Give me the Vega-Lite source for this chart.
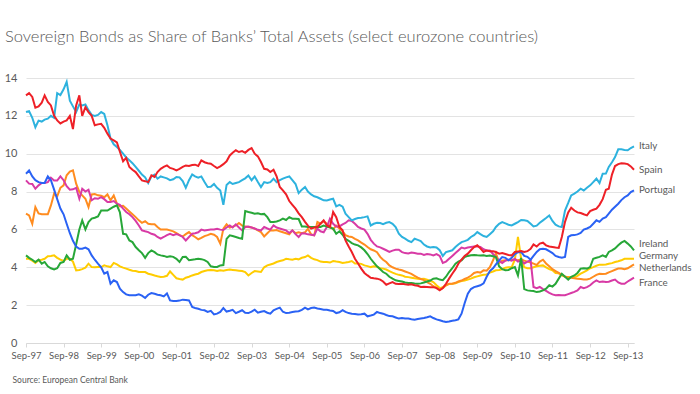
{
  "$schema": "https://vega.github.io/schema/vega-lite/v6.json",
  "width": 608,
  "height": 265,
  "autosize": {"type": "none"},
  "padding": {"left": 26, "top": 78, "right": 66, "bottom": 51},
  "background": "white",
  "config": {"font": "Lato", "view": {"stroke": null}},
  "title": {
    "text": "Sovereign Bonds as Share of Banks’ Total Assets (select eurozone countries)",
    "anchor": "start", "frame": "group", "dx": -21, "offset": 27,
    "fontSize": 16.5, "font": "Lato", "fontWeight": 300, "color": "#595959"
  },
  "data": {
    "format": {"parse": {"date": "utc:'%Y-%m'"}},
    "values": [
{"date":"1997-09","Italy":12.2,"Spain":13.08,"Portugal":8.94,"Ireland":4.63,"Germany":4.45,"Netherlands":6.83,"France":8.59},
{"date":"1997-10","Italy":12.25,"Spain":13.2,"Portugal":9.12,"Ireland":4.5,"Germany":4.45,"Netherlands":6.74,"France":8.42},
{"date":"1997-11","Italy":11.9,"Spain":13.0,"Portugal":8.8,"Ireland":4.4,"Germany":4.35,"Netherlands":6.3,"France":8.4},
{"date":"1997-12","Italy":11.4,"Spain":12.43,"Portugal":8.6,"Ireland":4.28,"Germany":4.23,"Netherlands":7.18,"France":8.15},
{"date":"1998-01","Italy":11.75,"Spain":12.5,"Portugal":8.5,"Ireland":4.4,"Germany":4.37,"Netherlands":6.85,"France":8.33},
{"date":"1998-02","Italy":11.7,"Spain":12.7,"Portugal":8.45,"Ireland":4.19,"Germany":4.4,"Netherlands":6.8,"France":8.45},
{"date":"1998-03","Italy":11.8,"Spain":13.08,"Portugal":8.45,"Ireland":4.28,"Germany":4.45,"Netherlands":6.8,"France":8.45},
{"date":"1998-04","Italy":11.85,"Spain":12.73,"Portugal":8.8,"Ireland":4.05,"Germany":4.58,"Netherlands":6.8,"France":8.5},
{"date":"1998-05","Italy":12.0,"Spain":12.55,"Portugal":8.6,"Ireland":3.95,"Germany":4.6,"Netherlands":7.27,"France":8.73},
{"date":"1998-06","Italy":11.9,"Spain":12.0,"Portugal":8.1,"Ireland":3.89,"Germany":4.63,"Netherlands":7.89,"France":8.59},
{"date":"1998-07","Italy":13.2,"Spain":11.76,"Portugal":7.6,"Ireland":3.95,"Germany":4.5,"Netherlands":7.75,"France":8.58},
{"date":"1998-08","Italy":13.1,"Spain":11.6,"Portugal":7.1,"Ireland":4.23,"Germany":4.4,"Netherlands":8.2,"France":8.8},
{"date":"1998-09","Italy":13.4,"Spain":11.7,"Portugal":6.8,"Ireland":4.28,"Germany":4.33,"Netherlands":8.33,"France":8.6},
{"date":"1998-10","Italy":13.8,"Spain":11.76,"Portugal":6.3,"Ireland":4.63,"Germany":4.45,"Netherlands":8.86,"France":8.28},
{"date":"1998-11","Italy":12.8,"Spain":12.0,"Portugal":5.8,"Ireland":4.4,"Germany":4.45,"Netherlands":9.05,"France":8.1},
{"date":"1998-12","Italy":12.5,"Spain":11.3,"Portugal":5.4,"Ireland":4.45,"Germany":4.3,"Netherlands":9.12,"France":8.12},
{"date":"1999-01","Italy":12.2,"Spain":12.55,"Portugal":5.1,"Ireland":5.2,"Germany":3.84,"Netherlands":8.42,"France":8.2},
{"date":"1999-02","Italy":12.6,"Spain":13.08,"Portugal":4.98,"Ireland":6.0,"Germany":3.86,"Netherlands":7.98,"France":7.62},
{"date":"1999-03","Italy":12.55,"Spain":12.0,"Portugal":4.98,"Ireland":6.48,"Germany":3.9,"Netherlands":7.8,"France":8.15},
{"date":"1999-04","Italy":12.6,"Spain":12.46,"Portugal":5.04,"Ireland":6.0,"Germany":3.98,"Netherlands":7.62,"France":8.0},
{"date":"1999-05","Italy":12.3,"Spain":12.2,"Portugal":4.95,"Ireland":6.39,"Germany":4.19,"Netherlands":7.18,"France":8.1},
{"date":"1999-06","Italy":12.05,"Spain":12.0,"Portugal":4.63,"Ireland":6.57,"Germany":4.01,"Netherlands":7.85,"France":7.54},
{"date":"1999-07","Italy":12.0,"Spain":11.5,"Portugal":4.4,"Ireland":6.62,"Germany":4.0,"Netherlands":7.87,"France":7.65},
{"date":"1999-08","Italy":12.05,"Spain":11.55,"Portugal":4.19,"Ireland":6.69,"Germany":4.02,"Netherlands":7.8,"France":7.62},
{"date":"1999-09","Italy":12.2,"Spain":11.58,"Portugal":4.0,"Ireland":7.0,"Germany":4.01,"Netherlands":7.78,"France":7.71},
{"date":"1999-10","Italy":12.1,"Spain":11.37,"Portugal":3.66,"Ireland":7.0,"Germany":4.1,"Netherlands":7.7,"France":7.6},
{"date":"1999-11","Italy":11.5,"Spain":11.06,"Portugal":3.75,"Ireland":7.0,"Germany":4.05,"Netherlands":7.85,"France":7.45},
{"date":"1999-12","Italy":10.8,"Spain":10.8,"Portugal":3.13,"Ireland":7.1,"Germany":4.01,"Netherlands":7.54,"France":7.45},
{"date":"2000-01","Italy":10.5,"Spain":10.7,"Portugal":3.31,"Ireland":7.2,"Germany":4.23,"Netherlands":7.8,"France":7.5},
{"date":"2000-02","Italy":10.35,"Spain":10.6,"Portugal":3.22,"Ireland":7.27,"Germany":4.15,"Netherlands":7.36,"France":7.36},
{"date":"2000-03","Italy":10.2,"Spain":10.1,"Portugal":2.87,"Ireland":6.9,"Germany":4.05,"Netherlands":7.22,"France":7.3},
{"date":"2000-04","Italy":10.0,"Spain":9.6,"Portugal":2.69,"Ireland":5.77,"Germany":3.98,"Netherlands":7.25,"France":7.1},
{"date":"2000-05","Italy":9.8,"Spain":9.78,"Portugal":2.57,"Ireland":5.74,"Germany":3.93,"Netherlands":7.1,"France":6.92},
{"date":"2000-06","Italy":9.65,"Spain":9.3,"Portugal":2.52,"Ireland":5.42,"Germany":3.87,"Netherlands":6.95,"France":6.8},
{"date":"2000-07","Italy":9.5,"Spain":9.15,"Portugal":2.52,"Ireland":5.33,"Germany":3.82,"Netherlands":6.8,"France":6.65},
{"date":"2000-08","Italy":9.3,"Spain":9.03,"Portugal":2.52,"Ireland":5.07,"Germany":3.8,"Netherlands":6.65,"France":6.45},
{"date":"2000-09","Italy":9.1,"Spain":8.8,"Portugal":2.57,"Ireland":4.9,"Germany":3.75,"Netherlands":6.48,"France":6.21},
{"date":"2000-10","Italy":8.9,"Spain":8.59,"Portugal":2.5,"Ireland":4.75,"Germany":3.75,"Netherlands":6.35,"France":5.95},
{"date":"2000-11","Italy":8.75,"Spain":8.55,"Portugal":2.38,"Ireland":4.5,"Germany":3.75,"Netherlands":6.44,"France":5.9},
{"date":"2000-12","Italy":8.45,"Spain":8.5,"Portugal":2.55,"Ireland":4.75,"Germany":3.66,"Netherlands":6.3,"France":5.86},
{"date":"2001-01","Italy":8.8,"Spain":8.86,"Portugal":2.64,"Ireland":4.89,"Germany":3.62,"Netherlands":6.27,"France":5.77},
{"date":"2001-02","Italy":8.9,"Spain":8.77,"Portugal":2.6,"Ireland":4.8,"Germany":3.57,"Netherlands":6.27,"France":5.72},
{"date":"2001-03","Italy":8.68,"Spain":9.03,"Portugal":2.55,"Ireland":4.68,"Germany":3.53,"Netherlands":6.13,"France":5.6},
{"date":"2001-04","Italy":8.8,"Spain":9.2,"Portugal":2.52,"Ireland":4.63,"Germany":3.49,"Netherlands":6.0,"France":5.51},
{"date":"2001-05","Italy":8.75,"Spain":9.3,"Portugal":2.46,"Ireland":4.6,"Germany":3.5,"Netherlands":5.99,"France":5.6},
{"date":"2001-06","Italy":8.7,"Spain":9.38,"Portugal":2.62,"Ireland":4.54,"Germany":3.55,"Netherlands":5.99,"France":5.7},
{"date":"2001-07","Italy":8.6,"Spain":9.25,"Portugal":2.25,"Ireland":4.58,"Germany":3.78,"Netherlands":5.95,"France":5.77},
{"date":"2001-08","Italy":8.65,"Spain":9.2,"Portugal":2.22,"Ireland":4.55,"Germany":3.6,"Netherlands":5.9,"France":5.7},
{"date":"2001-09","Italy":8.77,"Spain":9.12,"Portugal":2.22,"Ireland":4.45,"Germany":3.42,"Netherlands":5.81,"France":5.75},
{"date":"2001-10","Italy":8.75,"Spain":9.2,"Portugal":2.24,"Ireland":4.28,"Germany":3.38,"Netherlands":5.7,"France":5.7},
{"date":"2001-11","Italy":8.55,"Spain":9.3,"Portugal":2.29,"Ireland":4.54,"Germany":3.35,"Netherlands":5.63,"France":5.6},
{"date":"2001-12","Italy":8.2,"Spain":9.38,"Portugal":2.27,"Ireland":4.55,"Germany":3.45,"Netherlands":5.75,"France":5.42},
{"date":"2002-01","Italy":8.6,"Spain":9.35,"Portugal":2.25,"Ireland":4.37,"Germany":3.5,"Netherlands":5.86,"France":5.6},
{"date":"2002-02","Italy":8.9,"Spain":9.4,"Portugal":1.9,"Ireland":4.4,"Germany":3.57,"Netherlands":5.7,"France":5.77},
{"date":"2002-03","Italy":8.8,"Spain":9.42,"Portugal":1.85,"Ireland":4.42,"Germany":3.62,"Netherlands":5.6,"France":5.8},
{"date":"2002-04","Italy":8.73,"Spain":9.35,"Portugal":1.81,"Ireland":4.45,"Germany":3.66,"Netherlands":5.48,"France":5.85},
{"date":"2002-05","Italy":8.8,"Spain":9.65,"Portugal":1.75,"Ireland":4.43,"Germany":3.75,"Netherlands":5.55,"France":5.99},
{"date":"2002-06","Italy":8.5,"Spain":9.55,"Portugal":1.73,"Ireland":4.38,"Germany":3.8,"Netherlands":5.65,"France":5.95},
{"date":"2002-07","Italy":8.24,"Spain":9.5,"Portugal":1.64,"Ireland":4.28,"Germany":3.84,"Netherlands":5.7,"France":5.97},
{"date":"2002-08","Italy":8.25,"Spain":9.47,"Portugal":1.7,"Ireland":4.05,"Germany":3.85,"Netherlands":5.77,"France":5.99},
{"date":"2002-09","Italy":8.4,"Spain":9.35,"Portugal":1.51,"Ireland":4.01,"Germany":3.84,"Netherlands":5.72,"France":6.0},
{"date":"2002-10","Italy":8.2,"Spain":9.24,"Portugal":1.55,"Ireland":4.02,"Germany":3.8,"Netherlands":5.6,"France":6.04},
{"date":"2002-11","Italy":8.06,"Spain":9.33,"Portugal":1.64,"Ireland":4.1,"Germany":3.84,"Netherlands":5.25,"France":5.99},
{"date":"2002-12","Italy":7.3,"Spain":9.45,"Portugal":1.85,"Ireland":4.12,"Germany":3.82,"Netherlands":6.04,"France":5.97},
{"date":"2003-01","Italy":8.35,"Spain":9.6,"Portugal":1.66,"Ireland":5.5,"Germany":3.86,"Netherlands":6.27,"France":6.1},
{"date":"2003-02","Italy":8.5,"Spain":9.91,"Portugal":1.7,"Ireland":5.69,"Germany":3.88,"Netherlands":6.1,"France":6.21},
{"date":"2003-03","Italy":8.4,"Spain":10.05,"Portugal":1.75,"Ireland":5.65,"Germany":3.86,"Netherlands":6.15,"France":6.1},
{"date":"2003-04","Italy":8.45,"Spain":10.18,"Portugal":1.58,"Ireland":5.6,"Germany":3.84,"Netherlands":6.21,"France":6.27},
{"date":"2003-05","Italy":8.5,"Spain":10.09,"Portugal":1.65,"Ireland":5.55,"Germany":3.82,"Netherlands":6.34,"France":6.1},
{"date":"2003-06","Italy":8.6,"Spain":10.14,"Portugal":1.73,"Ireland":5.51,"Germany":3.8,"Netherlands":6.2,"France":5.95},
{"date":"2003-07","Italy":8.7,"Spain":10.05,"Portugal":1.6,"Ireland":6.97,"Germany":3.75,"Netherlands":6.15,"France":6.13},
{"date":"2003-08","Italy":8.85,"Spain":10.2,"Portugal":1.58,"Ireland":6.92,"Germany":3.57,"Netherlands":6.13,"France":6.15},
{"date":"2003-09","Italy":8.6,"Spain":10.3,"Portugal":1.66,"Ireland":6.88,"Germany":3.7,"Netherlands":6.1,"France":6.1},
{"date":"2003-10","Italy":8.8,"Spain":10.0,"Portugal":1.76,"Ireland":6.83,"Germany":3.8,"Netherlands":6.04,"France":6.05},
{"date":"2003-11","Italy":8.5,"Spain":9.86,"Portugal":1.6,"Ireland":6.85,"Germany":3.78,"Netherlands":5.95,"France":5.98},
{"date":"2003-12","Italy":8.24,"Spain":9.56,"Portugal":1.65,"Ireland":6.8,"Germany":3.75,"Netherlands":5.86,"France":5.95},
{"date":"2004-01","Italy":8.5,"Spain":9.2,"Portugal":1.69,"Ireland":6.82,"Germany":4.0,"Netherlands":5.63,"France":6.13},
{"date":"2004-02","Italy":8.45,"Spain":9.17,"Portugal":1.6,"Ireland":6.65,"Germany":4.1,"Netherlands":5.8,"France":6.05},
{"date":"2004-03","Italy":8.5,"Spain":9.03,"Portugal":1.55,"Ireland":6.39,"Germany":4.15,"Netherlands":5.95,"France":5.99},
{"date":"2004-04","Italy":8.68,"Spain":9.15,"Portugal":1.73,"Ireland":6.39,"Germany":4.2,"Netherlands":5.95,"France":6.21},
{"date":"2004-05","Italy":8.5,"Spain":8.8,"Portugal":1.8,"Ireland":6.42,"Germany":4.28,"Netherlands":5.97,"France":6.1},
{"date":"2004-06","Italy":8.6,"Spain":8.24,"Portugal":1.87,"Ireland":6.48,"Germany":4.33,"Netherlands":5.9,"France":6.05},
{"date":"2004-07","Italy":8.68,"Spain":8.06,"Portugal":1.65,"Ireland":6.57,"Germany":4.37,"Netherlands":5.85,"France":6.0},
{"date":"2004-08","Italy":8.75,"Spain":7.85,"Portugal":1.58,"Ireland":6.5,"Germany":4.45,"Netherlands":5.8,"France":5.95},
{"date":"2004-09","Italy":8.8,"Spain":7.5,"Portugal":1.6,"Ireland":6.65,"Germany":4.42,"Netherlands":5.74,"France":5.81},
{"date":"2004-10","Italy":8.6,"Spain":7.3,"Portugal":1.64,"Ireland":6.57,"Germany":4.4,"Netherlands":5.95,"France":5.95},
{"date":"2004-11","Italy":8.4,"Spain":7.1,"Portugal":1.66,"Ireland":6.57,"Germany":4.45,"Netherlands":5.8,"France":5.75},
{"date":"2004-12","Italy":7.92,"Spain":6.85,"Portugal":1.68,"Ireland":6.55,"Germany":4.42,"Netherlands":5.85,"France":5.6},
{"date":"2005-01","Italy":8.1,"Spain":6.65,"Portugal":1.75,"Ireland":6.16,"Germany":4.5,"Netherlands":5.8,"France":5.8},
{"date":"2005-02","Italy":8.24,"Spain":6.4,"Portugal":1.87,"Ireland":6.16,"Germany":4.54,"Netherlands":5.85,"France":5.78},
{"date":"2005-03","Italy":8.0,"Spain":6.2,"Portugal":1.78,"Ireland":6.13,"Germany":4.63,"Netherlands":6.04,"France":5.74},
{"date":"2005-04","Italy":7.85,"Spain":6.04,"Portugal":1.85,"Ireland":6.13,"Germany":4.5,"Netherlands":5.74,"France":5.72},
{"date":"2005-05","Italy":7.75,"Spain":6.1,"Portugal":1.87,"Ireland":6.13,"Germany":4.42,"Netherlands":5.69,"France":5.69},
{"date":"2005-06","Italy":7.7,"Spain":6.13,"Portugal":1.82,"Ireland":6.13,"Germany":4.38,"Netherlands":6.39,"France":6.04},
{"date":"2005-07","Italy":7.62,"Spain":6.3,"Portugal":1.8,"Ireland":6.13,"Germany":4.3,"Netherlands":6.3,"France":5.9},
{"date":"2005-08","Italy":7.54,"Spain":6.48,"Portugal":1.76,"Ireland":6.2,"Germany":4.28,"Netherlands":6.44,"France":5.85},
{"date":"2005-09","Italy":7.53,"Spain":6.21,"Portugal":1.76,"Ireland":6.15,"Germany":4.28,"Netherlands":6.3,"France":6.13},
{"date":"2005-10","Italy":7.58,"Spain":6.13,"Portugal":1.72,"Ireland":6.1,"Germany":4.25,"Netherlands":6.15,"France":6.57},
{"date":"2005-11","Italy":7.62,"Spain":6.92,"Portugal":1.69,"Ireland":6.04,"Germany":4.33,"Netherlands":6.0,"France":6.3},
{"date":"2005-12","Italy":7.22,"Spain":6.65,"Portugal":1.58,"Ireland":5.77,"Germany":4.3,"Netherlands":6.2,"France":6.16},
{"date":"2006-01","Italy":7.3,"Spain":6.13,"Portugal":1.62,"Ireland":5.9,"Germany":4.28,"Netherlands":6.05,"France":6.16},
{"date":"2006-02","Italy":7.2,"Spain":5.95,"Portugal":1.73,"Ireland":5.72,"Germany":4.23,"Netherlands":5.9,"France":6.27},
{"date":"2006-03","Italy":6.83,"Spain":5.42,"Portugal":1.64,"Ireland":5.5,"Germany":4.25,"Netherlands":5.7,"France":6.34},
{"date":"2006-04","Italy":6.65,"Spain":5.1,"Portugal":1.58,"Ireland":5.4,"Germany":4.28,"Netherlands":5.63,"France":6.48},
{"date":"2006-05","Italy":6.48,"Spain":4.81,"Portugal":1.55,"Ireland":5.28,"Germany":4.33,"Netherlands":5.6,"France":6.45},
{"date":"2006-06","Italy":6.55,"Spain":4.45,"Portugal":1.53,"Ireland":5.2,"Germany":4.2,"Netherlands":5.5,"France":6.3},
{"date":"2006-07","Italy":6.6,"Spain":4.2,"Portugal":1.5,"Ireland":5.16,"Germany":4.2,"Netherlands":5.42,"France":6.13},
{"date":"2006-08","Italy":6.62,"Spain":3.93,"Portugal":1.52,"Ireland":5.05,"Germany":4.18,"Netherlands":5.3,"France":6.05},
{"date":"2006-09","Italy":6.65,"Spain":3.7,"Portugal":1.55,"Ireland":4.9,"Germany":4.1,"Netherlands":5.2,"France":5.99},
{"date":"2006-10","Italy":6.69,"Spain":3.57,"Portugal":1.41,"Ireland":4.7,"Germany":4.06,"Netherlands":5.07,"France":5.77},
{"date":"2006-11","Italy":6.21,"Spain":3.45,"Portugal":1.45,"Ireland":4.45,"Germany":4.01,"Netherlands":4.95,"France":5.45},
{"date":"2006-12","Italy":6.3,"Spain":3.42,"Portugal":1.5,"Ireland":4.25,"Germany":4.05,"Netherlands":4.89,"France":5.25},
{"date":"2007-01","Italy":6.35,"Spain":3.4,"Portugal":1.64,"Ireland":4.05,"Germany":4.03,"Netherlands":4.8,"France":5.1},
{"date":"2007-02","Italy":6.34,"Spain":3.35,"Portugal":1.58,"Ireland":3.9,"Germany":3.95,"Netherlands":4.55,"France":5.05},
{"date":"2007-03","Italy":6.28,"Spain":3.25,"Portugal":1.55,"Ireland":3.75,"Germany":3.93,"Netherlands":4.4,"France":4.98},
{"date":"2007-04","Italy":6.35,"Spain":3.08,"Portugal":1.48,"Ireland":3.66,"Germany":3.88,"Netherlands":4.28,"France":4.9},
{"date":"2007-05","Italy":6.39,"Spain":3.15,"Portugal":1.42,"Ireland":3.5,"Germany":3.8,"Netherlands":4.1,"France":4.81},
{"date":"2007-06","Italy":6.3,"Spain":3.22,"Portugal":1.41,"Ireland":3.4,"Germany":3.72,"Netherlands":4.0,"France":4.88},
{"date":"2007-07","Italy":6.13,"Spain":3.13,"Portugal":1.35,"Ireland":3.31,"Germany":3.65,"Netherlands":3.93,"France":4.93},
{"date":"2007-08","Italy":5.77,"Spain":3.12,"Portugal":1.29,"Ireland":3.28,"Germany":3.6,"Netherlands":3.88,"France":4.93},
{"date":"2007-09","Italy":5.6,"Spain":3.13,"Portugal":1.32,"Ireland":3.25,"Germany":3.57,"Netherlands":3.84,"France":4.8},
{"date":"2007-10","Italy":5.51,"Spain":3.1,"Portugal":1.3,"Ireland":3.2,"Germany":3.5,"Netherlands":3.78,"France":4.75},
{"date":"2007-11","Italy":5.4,"Spain":3.08,"Portugal":1.29,"Ireland":3.17,"Germany":3.48,"Netherlands":3.72,"France":4.73},
{"date":"2007-12","Italy":5.33,"Spain":3.1,"Portugal":1.25,"Ireland":3.17,"Germany":3.45,"Netherlands":3.65,"France":4.78},
{"date":"2008-01","Italy":5.51,"Spain":3.05,"Portugal":1.23,"Ireland":3.14,"Germany":3.42,"Netherlands":3.55,"France":4.75},
{"date":"2008-02","Italy":5.45,"Spain":3.02,"Portugal":1.27,"Ireland":3.13,"Germany":3.4,"Netherlands":3.45,"France":4.72},
{"date":"2008-03","Italy":5.39,"Spain":2.96,"Portugal":1.3,"Ireland":3.15,"Germany":3.38,"Netherlands":3.38,"France":4.72},
{"date":"2008-04","Italy":5.2,"Spain":2.97,"Portugal":1.32,"Ireland":3.2,"Germany":3.4,"Netherlands":3.32,"France":4.65},
{"date":"2008-05","Italy":5.1,"Spain":2.96,"Portugal":1.36,"Ireland":3.25,"Germany":3.35,"Netherlands":3.22,"France":4.7},
{"date":"2008-06","Italy":5.05,"Spain":2.95,"Portugal":1.41,"Ireland":3.3,"Germany":3.28,"Netherlands":3.13,"France":4.68},
{"date":"2008-07","Italy":5.07,"Spain":2.95,"Portugal":1.32,"Ireland":3.4,"Germany":3.22,"Netherlands":3.0,"France":4.63},
{"date":"2008-08","Italy":5.05,"Spain":2.9,"Portugal":1.25,"Ireland":3.42,"Germany":3.05,"Netherlands":2.93,"France":4.7},
{"date":"2008-09","Italy":4.9,"Spain":2.78,"Portugal":1.2,"Ireland":3.35,"Germany":2.9,"Netherlands":2.82,"France":4.6},
{"date":"2008-10","Italy":4.6,"Spain":2.9,"Portugal":1.15,"Ireland":3.32,"Germany":2.95,"Netherlands":2.9,"France":4.23},
{"date":"2008-11","Italy":4.8,"Spain":3.13,"Portugal":1.11,"Ireland":3.5,"Germany":3.05,"Netherlands":3.05,"France":4.3},
{"date":"2008-12","Italy":4.85,"Spain":3.4,"Portugal":1.14,"Ireland":3.75,"Germany":3.12,"Netherlands":3.13,"France":4.45},
{"date":"2009-01","Italy":4.9,"Spain":3.66,"Portugal":1.18,"Ireland":3.95,"Germany":3.13,"Netherlands":3.13,"France":4.6},
{"date":"2009-02","Italy":5.07,"Spain":3.9,"Portugal":1.2,"Ireland":4.19,"Germany":3.15,"Netherlands":3.18,"France":4.75},
{"date":"2009-03","Italy":5.2,"Spain":4.19,"Portugal":1.25,"Ireland":4.3,"Germany":3.22,"Netherlands":3.25,"France":4.89},
{"date":"2009-04","Italy":5.33,"Spain":4.4,"Portugal":1.55,"Ireland":4.37,"Germany":3.27,"Netherlands":3.3,"France":5.04},
{"date":"2009-05","Italy":5.38,"Spain":4.6,"Portugal":2.1,"Ireland":4.54,"Germany":3.3,"Netherlands":3.38,"France":5.0},
{"date":"2009-06","Italy":5.45,"Spain":4.72,"Portugal":2.6,"Ireland":4.6,"Germany":3.35,"Netherlands":3.45,"France":5.04},
{"date":"2009-07","Italy":5.6,"Spain":4.9,"Portugal":2.85,"Ireland":4.63,"Germany":3.4,"Netherlands":3.55,"France":5.07},
{"date":"2009-08","Italy":5.7,"Spain":5.07,"Portugal":2.95,"Ireland":4.65,"Germany":3.47,"Netherlands":3.7,"France":5.1},
{"date":"2009-09","Italy":5.86,"Spain":5.16,"Portugal":3.0,"Ireland":4.63,"Germany":3.52,"Netherlands":3.75,"France":5.1},
{"date":"2009-10","Italy":5.75,"Spain":5.0,"Portugal":3.05,"Ireland":4.62,"Germany":3.57,"Netherlands":3.72,"France":5.08},
{"date":"2009-11","Italy":5.65,"Spain":4.81,"Portugal":3.15,"Ireland":4.63,"Germany":3.6,"Netherlands":3.84,"France":4.95},
{"date":"2009-12","Italy":5.6,"Spain":4.89,"Portugal":3.5,"Ireland":4.6,"Germany":3.62,"Netherlands":3.82,"France":4.89},
{"date":"2010-01","Italy":5.75,"Spain":4.85,"Portugal":3.8,"Ireland":4.62,"Germany":3.72,"Netherlands":4.01,"France":4.89},
{"date":"2010-02","Italy":5.9,"Spain":4.85,"Portugal":3.95,"Ireland":4.58,"Germany":3.78,"Netherlands":4.37,"France":4.7},
{"date":"2010-03","Italy":6.13,"Spain":4.81,"Portugal":4.15,"Ireland":4.54,"Germany":3.84,"Netherlands":4.75,"France":4.54},
{"date":"2010-04","Italy":6.3,"Spain":4.72,"Portugal":4.37,"Ireland":4.05,"Germany":3.86,"Netherlands":4.23,"France":4.35},
{"date":"2010-05","Italy":6.39,"Spain":4.75,"Portugal":4.54,"Ireland":3.9,"Germany":3.9,"Netherlands":4.35,"France":4.23},
{"date":"2010-06","Italy":6.32,"Spain":4.7,"Portugal":4.5,"Ireland":3.84,"Germany":3.98,"Netherlands":4.37,"France":4.35},
{"date":"2010-07","Italy":6.25,"Spain":4.65,"Portugal":4.37,"Ireland":3.86,"Germany":4.0,"Netherlands":4.37,"France":4.4},
{"date":"2010-08","Italy":6.21,"Spain":4.63,"Portugal":4.5,"Ireland":3.95,"Germany":4.01,"Netherlands":4.4,"France":4.35},
{"date":"2010-09","Italy":6.3,"Spain":4.81,"Portugal":4.7,"Ireland":4.01,"Germany":4.4,"Netherlands":4.38,"France":4.45},
{"date":"2010-10","Italy":6.39,"Spain":4.84,"Portugal":4.8,"Ireland":3.57,"Germany":5.6,"Netherlands":4.37,"France":4.3},
{"date":"2010-11","Italy":6.5,"Spain":4.86,"Portugal":4.81,"Ireland":4.5,"Germany":4.45,"Netherlands":4.42,"France":4.37},
{"date":"2010-12","Italy":6.48,"Spain":4.81,"Portugal":4.6,"Ireland":2.85,"Germany":4.0,"Netherlands":4.35,"France":4.2},
{"date":"2011-01","Italy":6.45,"Spain":4.85,"Portugal":4.55,"Ireland":2.78,"Germany":3.95,"Netherlands":4.3,"France":4.3},
{"date":"2011-02","Italy":6.3,"Spain":4.98,"Portugal":4.4,"Ireland":2.76,"Germany":3.95,"Netherlands":4.25,"France":4.37},
{"date":"2011-03","Italy":6.16,"Spain":5.21,"Portugal":4.6,"Ireland":2.75,"Germany":4.0,"Netherlands":4.19,"France":2.96},
{"date":"2011-04","Italy":6.2,"Spain":5.1,"Portugal":4.81,"Ireland":2.69,"Germany":4.05,"Netherlands":4.12,"France":2.9},
{"date":"2011-05","Italy":6.35,"Spain":5.25,"Portugal":4.95,"Ireland":2.72,"Germany":4.08,"Netherlands":4.3,"France":2.96},
{"date":"2011-06","Italy":6.48,"Spain":5.3,"Portugal":4.98,"Ireland":2.78,"Germany":4.1,"Netherlands":4.4,"France":2.85},
{"date":"2011-07","Italy":6.6,"Spain":5.16,"Portugal":4.95,"Ireland":2.87,"Germany":4.0,"Netherlands":4.2,"France":2.75},
{"date":"2011-08","Italy":6.74,"Spain":5.1,"Portugal":4.85,"Ireland":3.05,"Germany":3.9,"Netherlands":4.05,"France":2.65},
{"date":"2011-09","Italy":6.45,"Spain":5.07,"Portugal":4.75,"Ireland":2.98,"Germany":3.84,"Netherlands":3.9,"France":2.57},
{"date":"2011-10","Italy":6.25,"Spain":5.04,"Portugal":4.6,"Ireland":3.13,"Germany":3.7,"Netherlands":3.8,"France":2.52},
{"date":"2011-11","Italy":6.16,"Spain":5.02,"Portugal":4.54,"Ireland":3.4,"Germany":3.68,"Netherlands":3.7,"France":2.54},
{"date":"2011-12","Italy":6.13,"Spain":5.6,"Portugal":4.5,"Ireland":3.66,"Germany":3.57,"Netherlands":3.6,"France":2.52},
{"date":"2012-01","Italy":7.0,"Spain":6.4,"Portugal":4.55,"Ireland":3.5,"Germany":3.5,"Netherlands":3.52,"France":2.52},
{"date":"2012-02","Italy":7.4,"Spain":6.9,"Portugal":5.6,"Ireland":3.35,"Germany":3.49,"Netherlands":3.45,"France":2.58},
{"date":"2012-03","Italy":7.8,"Spain":7.15,"Portugal":5.69,"Ireland":3.5,"Germany":3.48,"Netherlands":3.45,"France":2.64},
{"date":"2012-04","Italy":7.89,"Spain":7.0,"Portugal":5.7,"Ireland":3.57,"Germany":3.47,"Netherlands":3.42,"France":2.7},
{"date":"2012-05","Italy":8.0,"Spain":6.9,"Portugal":5.74,"Ireland":3.7,"Germany":3.55,"Netherlands":3.4,"France":2.78},
{"date":"2012-06","Italy":8.15,"Spain":6.87,"Portugal":5.81,"Ireland":3.93,"Germany":3.66,"Netherlands":3.38,"France":2.96},
{"date":"2012-07","Italy":8.06,"Spain":6.8,"Portugal":5.99,"Ireland":3.95,"Germany":3.75,"Netherlands":3.36,"France":2.9},
{"date":"2012-08","Italy":8.2,"Spain":6.74,"Portugal":6.05,"Ireland":3.93,"Germany":3.84,"Netherlands":3.36,"France":2.95},
{"date":"2012-09","Italy":8.33,"Spain":6.97,"Portugal":6.13,"Ireland":4.01,"Germany":3.95,"Netherlands":3.4,"France":3.05},
{"date":"2012-10","Italy":8.5,"Spain":7.04,"Portugal":6.3,"Ireland":4.45,"Germany":4.01,"Netherlands":3.5,"France":3.2},
{"date":"2012-11","Italy":8.68,"Spain":7.1,"Portugal":6.48,"Ireland":4.5,"Germany":4.08,"Netherlands":3.6,"France":3.31},
{"date":"2012-12","Italy":8.45,"Spain":7.3,"Portugal":6.4,"Ireland":4.55,"Germany":4.14,"Netherlands":3.66,"France":3.22},
{"date":"2013-01","Italy":8.94,"Spain":7.6,"Portugal":6.57,"Ireland":4.63,"Germany":4.14,"Netherlands":3.65,"France":3.25},
{"date":"2013-02","Italy":8.95,"Spain":8.1,"Portugal":6.65,"Ireland":4.55,"Germany":4.15,"Netherlands":3.66,"France":3.22},
{"date":"2013-03","Italy":9.3,"Spain":8.15,"Portugal":6.83,"Ireland":4.81,"Germany":4.19,"Netherlands":3.73,"France":3.24},
{"date":"2013-04","Italy":9.55,"Spain":8.9,"Portugal":7.04,"Ireland":4.89,"Germany":4.22,"Netherlands":3.8,"France":3.3},
{"date":"2013-05","Italy":9.82,"Spain":9.35,"Portugal":7.2,"Ireland":5.0,"Germany":4.28,"Netherlands":3.87,"France":3.35},
{"date":"2013-06","Italy":10.23,"Spain":9.45,"Portugal":7.36,"Ireland":5.16,"Germany":4.32,"Netherlands":3.93,"France":3.2},
{"date":"2013-07","Italy":10.23,"Spain":9.5,"Portugal":7.55,"Ireland":5.3,"Germany":4.37,"Netherlands":3.93,"France":3.13},
{"date":"2013-08","Italy":10.2,"Spain":9.48,"Portugal":7.7,"Ireland":5.39,"Germany":4.45,"Netherlands":3.9,"France":3.13},
{"date":"2013-09","Italy":10.18,"Spain":9.45,"Portugal":7.8,"Ireland":5.25,"Germany":4.45,"Netherlands":3.95,"France":3.25},
{"date":"2013-10","Italy":10.3,"Spain":9.33,"Portugal":7.97,"Ireland":5.1,"Germany":4.45,"Netherlands":4.05,"France":3.35},
{"date":"2013-11","Italy":10.39,"Spain":9.15,"Portugal":8.06,"Ireland":4.89,"Germany":4.45,"Netherlands":4.15,"France":3.45}
    ]
  },
  "transform": [
    {"fold": ["Germany", "Netherlands", "France", "Ireland", "Portugal", "Italy", "Spain"], "as": ["country", "value"]}
  ],
  "encoding": {
    "x": {
      "field": "date", "type": "temporal",
      "scale": {"type": "utc", "domain": [{"year": 1997, "month": 9, "date": 1, "utc": true}, {"year": 2013, "month": 11, "date": 1, "utc": true}]},
      "axis": {
        "values": [
          {"year": 1997, "month": 9, "date": 1, "utc": true}, {"year": 1998, "month": 9, "date": 1, "utc": true},
          {"year": 1999, "month": 9, "date": 1, "utc": true}, {"year": 2000, "month": 9, "date": 1, "utc": true},
          {"year": 2001, "month": 9, "date": 1, "utc": true}, {"year": 2002, "month": 9, "date": 1, "utc": true},
          {"year": 2003, "month": 9, "date": 1, "utc": true}, {"year": 2004, "month": 9, "date": 1, "utc": true},
          {"year": 2005, "month": 9, "date": 1, "utc": true}, {"year": 2006, "month": 9, "date": 1, "utc": true},
          {"year": 2007, "month": 9, "date": 1, "utc": true}, {"year": 2008, "month": 9, "date": 1, "utc": true},
          {"year": 2009, "month": 9, "date": 1, "utc": true}, {"year": 2010, "month": 9, "date": 1, "utc": true},
          {"year": 2011, "month": 9, "date": 1, "utc": true}, {"year": 2012, "month": 9, "date": 1, "utc": true},
          {"year": 2013, "month": 9, "date": 1, "utc": true}
        ],
        "labelExpr": "utcFormat(datum.value, '%b-%y')",
        "grid": false, "domainColor": "#D9D9D9", "tickColor": "#D9D9D9", "tickSize": 4,
        "labelFontSize": 9.5, "labelColor": "#595959", "labelPadding": 3, "labelFlush": false, "labelOverlap": false,
        "title": "Source: European Central Bank", "titleFontSize": 8.5, "titleFontWeight": "normal", "titleColor": "#595959",
        "titleAnchor": "start", "titleAlign": "left", "titleBaseline": "alphabetic", "titleX": -14, "titleY": 39
      }
    },
    "y": {
      "field": "value", "type": "quantitative",
      "scale": {"domain": [0, 14], "nice": false},
      "axis": {
        "values": [0, 2, 4, 6, 8, 10, 12, 14], "title": null, "domain": false, "ticks": false, "tickSize": 0,
        "gridColor": "#E3E3E3", "labelFontSize": 11, "labelColor": "#595959", "labelPadding": 9
      }
    },
    "color": {
      "field": "country", "type": "nominal", "legend": null,
      "scale": {
        "domain": ["Italy", "Spain", "Portugal", "Ireland", "Germany", "Netherlands", "France"],
        "range": ["#2DB2DE", "#EE2027", "#2A62F4", "#27A738", "#FFCC00", "#FF8C1F", "#D83AA5"]
      }
    }
  },
  "layer": [
    {"mark": {"type": "line", "strokeWidth": 2}},
    {
      "transform": [{"filter": "utcyear(datum.date) == 2013 && utcmonth(datum.date) == 10 && (datum.country == 'Italy' || datum.country == 'Spain' || datum.country == 'Portugal')"}],
      "mark": {"type": "text", "align": "left", "baseline": "middle", "dx": 5, "fontSize": 9.8},
      "encoding": {"text": {"field": "country"}, "color": {"value": "#595959"}}
    },
    {
      "transform": [{"filter": "utcyear(datum.date) == 2013 && utcmonth(datum.date) == 10 && datum.country == 'Ireland'"}],
      "mark": {"type": "text", "align": "left", "baseline": "middle", "dx": 5, "dy": -6, "fontSize": 9.8},
      "encoding": {"text": {"field": "country"}, "color": {"value": "#595959"}}
    },
    {
      "transform": [{"filter": "utcyear(datum.date) == 2013 && utcmonth(datum.date) == 10 && datum.country == 'Germany'"}],
      "mark": {"type": "text", "align": "left", "baseline": "middle", "dx": 5, "dy": -2.5, "fontSize": 9.8},
      "encoding": {"text": {"field": "country"}, "color": {"value": "#595959"}}
    },
    {
      "transform": [{"filter": "utcyear(datum.date) == 2013 && utcmonth(datum.date) == 10 && datum.country == 'Netherlands'"}],
      "mark": {"type": "text", "align": "left", "baseline": "middle", "dx": 5, "dy": 3.6, "fontSize": 9.8},
      "encoding": {"text": {"field": "country"}, "color": {"value": "#595959"}}
    },
    {
      "transform": [{"filter": "utcyear(datum.date) == 2013 && utcmonth(datum.date) == 10 && datum.country == 'France'"}],
      "mark": {"type": "text", "align": "left", "baseline": "middle", "dx": 5, "dy": 5.3, "fontSize": 9.8},
      "encoding": {"text": {"field": "country"}, "color": {"value": "#595959"}}
    }
  ]
}
